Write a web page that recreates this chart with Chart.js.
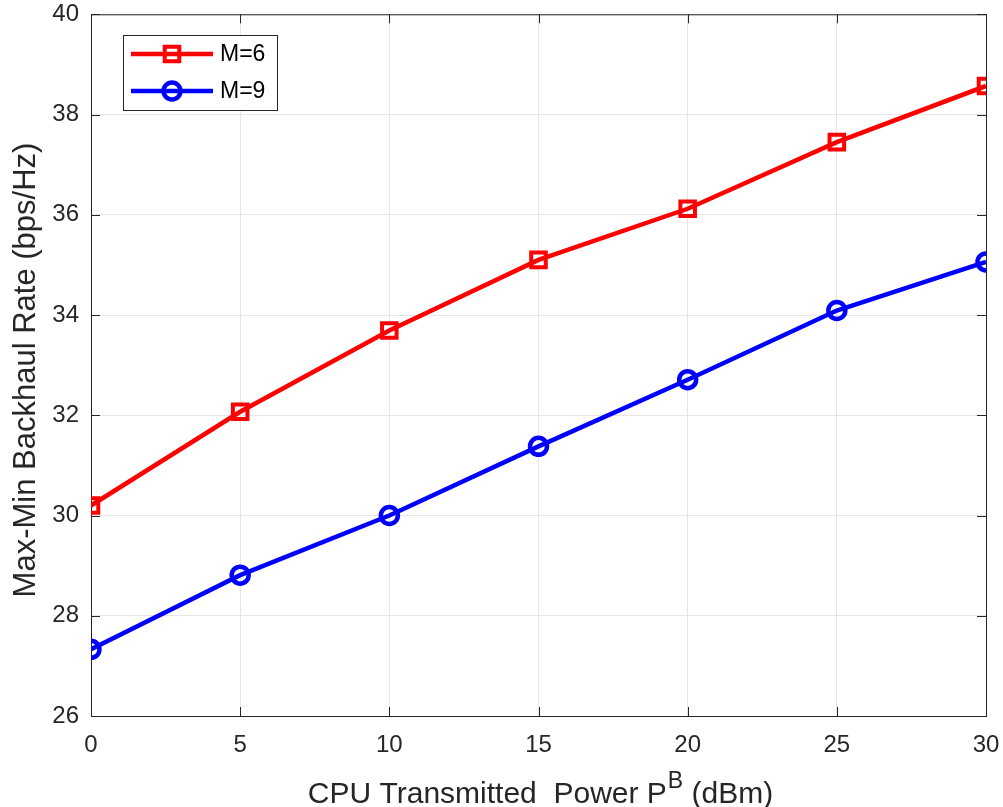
<!DOCTYPE html>
<html>
<head>
<meta charset="utf-8">
<script src="https://cdn.jsdelivr.net/npm/chart.js@4.4.0/dist/chart.umd.min.js"></script>
<style>
    html, body { margin: 0; padding: 0; background: #fff; }
</style>
</head>
<body>
<canvas id="rateChart" width="1003" height="807"></canvas>
<script>
const powerDbm = [0, 5, 10, 15, 20, 25, 30]; // CPU transmitted power (dBm)
const rateM6 = [30.20, 32.07, 33.69, 35.10, 36.12, 37.45, 38.57];
const rateM9 = [27.33, 28.81, 30.00, 31.38, 32.71, 34.09, 35.06];
const seriesLabels = ['M=6', 'M=9'];
const xTicks = [0, 5, 10, 15, 20, 25, 30];
const yTicks = [26, 28, 30, 32, 34, 36, 38, 40];

const axisColor = '#262626';
const fontFamily = '"Liberation Sans", Arial, Helvetica, sans-serif';

// MATLAB-like box with inward ticks, axis titles and legend
const matlabFrame = {
    id: 'matlabFrame',
    beforeDatasetsDraw(chart) {
        const { ctx, chartArea: a, scales } = chart;
        ctx.save();
        ctx.strokeStyle = axisColor;
        ctx.lineWidth = 1;
        ctx.strokeRect(a.left + 0.5, a.top + 0.5, a.right - a.left, a.bottom - a.top);
        ctx.beginPath();
        yTicks.forEach(v => {
            const y = Math.round(scales.y.getPixelForValue(v)) + 0.5;
            ctx.moveTo(a.left, y); ctx.lineTo(a.left + 9, y);
            ctx.moveTo(a.right, y); ctx.lineTo(a.right - 9, y);
        });
        xTicks.forEach(v => {
            const x = Math.round(scales.x.getPixelForValue(v)) + 0.5;
            ctx.moveTo(x, a.bottom); ctx.lineTo(x, a.bottom - 9);
            ctx.moveTo(x, a.top); ctx.lineTo(x, a.top + 9);
        });
        ctx.stroke();
        ctx.restore();
    },
    afterDraw(chart) {
        const { ctx, chartArea: a } = chart;
        ctx.save();
        ctx.fillStyle = axisColor;

        // x title with superscript
        const big = '30px ' + fontFamily;
        const small = '23px ' + fontFamily;
        const part1 = 'CPU Transmitted  Power P';
        const sup = 'B';
        const part2 = ' (dBm)';
        ctx.font = big;
        const w1 = ctx.measureText(part1).width;
        const w3 = ctx.measureText(part2).width;
        ctx.font = small;
        const w2 = ctx.measureText(sup).width;
        const x = 540 - (w1 + w2 + w3) / 2;
        const base = 803;
        ctx.textBaseline = 'alphabetic';
        ctx.textAlign = 'left';
        ctx.font = big;
        ctx.fillText(part1, x, base);
        ctx.font = small;
        ctx.fillText(sup, x + w1 + 1, base - 15);
        ctx.font = big;
        ctx.fillText(part2, x + w1 + w2 + 1, base);

        // y title
        ctx.save();
        ctx.translate(35, 370);
        ctx.rotate(-Math.PI / 2);
        ctx.textAlign = 'center';
        ctx.font = '31px ' + fontFamily;
        ctx.fillText('Max-Min Backhaul Rate (bps/Hz)', 0, 0);
        ctx.restore();

        // legend
        const lx = 123, ly = 35, lw = 154, lh = 75;
        ctx.fillStyle = '#fff';
        ctx.fillRect(lx, ly, lw, lh);
        ctx.strokeStyle = axisColor;
        ctx.lineWidth = 1;
        ctx.strokeRect(lx + 0.5, ly + 0.5, lw, lh);
        chart.data.datasets.forEach((ds, i) => {
            const cy = 54 + i * 37;
            ctx.strokeStyle = ds.borderColor;
            ctx.lineWidth = ds.borderWidth;
            ctx.beginPath();
            ctx.moveTo(131, cy); ctx.lineTo(213, cy);
            ctx.stroke();
            ctx.fillStyle = 'rgba(0,0,0,0)';
            ctx.lineWidth = ds.pointBorderWidth;
            Chart.helpers.drawPoint(ctx, {
                pointStyle: ds.pointStyle,
                radius: ds.pointRadius,
                borderWidth: ds.pointBorderWidth
            }, 172, cy);
            ctx.fillStyle = '#000';
            ctx.font = '23px ' + fontFamily;
            ctx.textAlign = 'left';
            ctx.textBaseline = 'middle';
            ctx.fillText(ds.label, 220, cy + 1);
        });
        ctx.restore();
    }
};

const ctx = document.getElementById('rateChart').getContext('2d');
new Chart(ctx, {
    type: 'line',
    data: {
        datasets: [{
            label: seriesLabels[0],
            data: powerDbm.map((p, i) => ({ x: p, y: rateM6[i] })),
            borderColor: '#ff0000',
            borderWidth: 4.5,
            pointStyle: 'rect',
            pointRadius: 10.3,
            pointBorderWidth: 4,
            pointBackgroundColor: 'rgba(0,0,0,0)',
            pointBorderColor: '#ff0000'
        }, {
            label: seriesLabels[1],
            data: powerDbm.map((p, i) => ({ x: p, y: rateM9[i] })),
            borderColor: '#0000ff',
            borderWidth: 4.5,
            pointStyle: 'circle',
            pointRadius: 8.5,
            pointBorderWidth: 4.5,
            pointBackgroundColor: 'rgba(0,0,0,0)',
            pointBorderColor: '#0000ff'
        }]
    },
    options: {
        responsive: false,
        animation: false,
        devicePixelRatio: 1,
        layout: { padding: { top: 13, right: 17, left: 0, bottom: 0 } },
        plugins: {
            legend: { display: false },
            tooltip: { enabled: false }
        },
        scales: {
            x: {
                type: 'linear',
                min: 0,
                max: 30,
                afterBuildTicks: scale => { scale.ticks = xTicks.map(v => ({ value: v })); },
                afterFit: scale => {
                    scale.height = 91;
                    scale.paddingLeft = 0; scale.paddingRight = 0;
                },
                grid: { color: '#e6e6e6', lineWidth: 1, drawTicks: false },
                border: { display: false },
                ticks: { color: axisColor, font: { family: fontFamily, size: 24 }, padding: 15, maxRotation: 0 }
            },
            y: {
                type: 'linear',
                min: 26,
                max: 40,
                afterBuildTicks: scale => { scale.ticks = yTicks.map(v => ({ value: v })); },
                afterFit: scale => {
                    scale.width = 91;
                    scale.paddingTop = 0; scale.paddingBottom = 0;
                },
                grid: { color: '#e6e6e6', lineWidth: 1, drawTicks: false },
                border: { display: false },
                ticks: { color: axisColor, font: { family: fontFamily, size: 24 }, padding: 12 }
            }
        }
    },
    plugins: [matlabFrame]
});
</script>
</body>
</html>
